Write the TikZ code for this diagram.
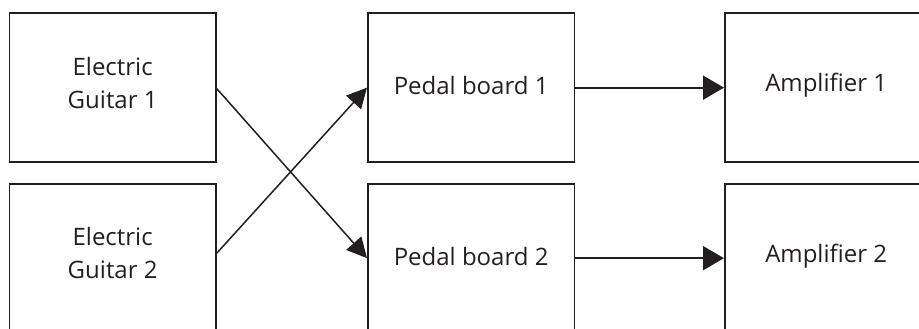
\documentclass[tikz,border=0pt]{standalone}
\usepackage{fontspec}
\setmainfont{Open Sans}
\usetikzlibrary{arrows.meta,calc}
\definecolor{ink}{HTML}{231F20}
\begin{document}
\begin{tikzpicture}[x=1pt,y=1pt,
  box/.style={draw=ink, line width=1.8pt, minimum width=206.5pt, minimum height=148.5pt,
    inner sep=0pt, anchor=north west},
  caption/.style={text=ink, font=\fontsize{24}{33}\selectfont, align=center, inner sep=0pt},
  link/.style={draw=ink, line width=2pt, -{Triangle[length=21pt,width=24pt]}},
  cross/.style={draw=ink, line width=1.5pt, -{Triangle[length=20pt,width=20pt]}}]
  \useasboundingbox (0,0) rectangle (919,-329);
  \begin{scope}
  \clip (0,0) rectangle (919,-329);
  % sources
  \node[box] (g1) at (8.5,-12.5) {};
  \node[box] (g2) at (8.5,-183) {};
  % pedal boards
  \node[box] (p1) at (367,-12.5) {};
  \node[box] (p2) at (367,-183) {};
  % amplifiers
  \node[box] (a1) at (724,-12.5) {};
  \node[box] (a2) at (724,-183) {};
  % box captions
  \node[caption] (g1t) at ($(g1.center)+(0,5)$) {Electric\\Guitar 1};
  \node[caption] (g2t) at ($(g2.center)+(0,5)$) {Electric\\Guitar 2};
  \node[caption] (p1t) at ($(p1.center)+(0,2)$) {Pedal board 1};
  \node[caption] (p2t) at ($(p2.center)+(0,2)$) {Pedal board 2};
  \node[caption] (a1t) at ($(a1.center)+(-2,2)$) {Amplifier 1};
  \node[caption] (a2t) at ($(a2.center)+(-2,2)$) {Amplifier 2};
  % crossed routing
  \draw[cross] ($(g1.east)+(0,-1)$) -- (p2.west);
  \draw[cross] ($(g2.east)+(0,5)$) -- (p1.west);
  % straight routing
  \draw[link] (p1.east) -- (a1.west);
  \draw[link] (p2.east) -- (a2.west);
  \end{scope}
\end{tikzpicture}
\end{document}
